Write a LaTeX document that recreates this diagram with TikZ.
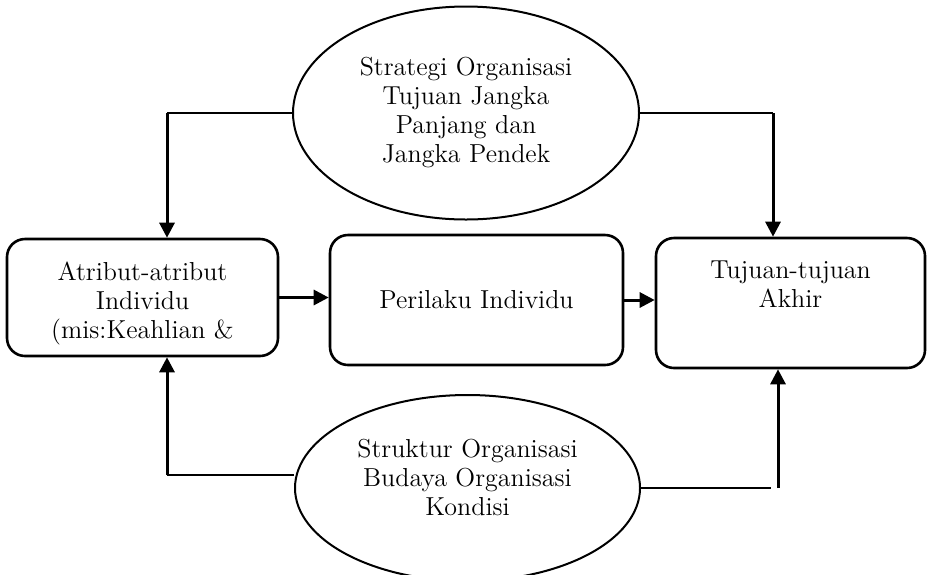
\documentclass[tikz,border=0pt]{standalone}
\usepackage{tikz}
\usetikzlibrary{arrows.meta,shapes.geometric,positioning}

\begin{document}
\begin{tikzpicture}[x=0.5pt,y=-0.5pt,
    box/.style={draw=black,line width=1.3pt,rounded corners=9pt},
    oval/.style={draw=black,ellipse,line width=1pt,inner sep=0pt},
    txt/.style={align=center,inner sep=0pt,font=\fontsize{13}{14.5}\selectfont},
    plain/.style={line width=1pt},
    conn/.style={line width=1.5pt,-{Triangle[length=7.5pt,width=7.5pt]}}]
    \useasboundingbox (0,0) rectangle (929,574);
    % ovals
    \node[oval,txt,minimum width=173pt,minimum height=106.5pt] (E1) at (466,113) {Strategi Organisasi\\Tujuan Jangka\\Panjang dan\\Jangka Pendek};
    \node[oval,minimum width=172.5pt,minimum height=93pt] (E2) at (467.5,488) {};
    \node[txt] (E2txt) at ([yshift=5.5pt]E2.center) {Struktur Organisasi\\Budaya Organisasi\\Kondisi};
    % boxes
    \node[box,minimum width=135.5pt,minimum height=58.5pt] (A) at (142.5,297.5) {};
    \node[txt,anchor=north] (Atxt) at ([yshift=-12pt]A.north) {Atribut-atribut\\Individu\\(mis:Keahlian \&};
    \node[box,txt,minimum width=146.5pt,minimum height=65pt] (B) at (476.5,300) {Perilaku Individu};
    \node[box,minimum width=134.5pt,minimum height=65pt] (C) at (790.5,303) {};
    \node[txt,anchor=north] (Ctxt) at ([yshift=-12pt]C.north) {Tujuan-tujuan\\Akhir};
    % bends
    \coordinate (tl) at (167,113);
    \coordinate (tr) at (773,113);
    \coordinate (bl) at (167,475);
    \coordinate (br) at (771,488);
    \coordinate (bu) at (778,488);
    \draw[plain] (E1.west) -- (tl);
    \draw[conn] (tl) -- (tl |- A.north);
    \draw[plain] (E1.east) -- (tr);
    \draw[conn] (tr) -- (tr |- C.north);
    \draw[plain] (E2.west |- bl) -- (bl);
    \draw[conn] (bl) -- (bl |- A.south);
    \draw[plain] (E2.east) -- (br);
    \draw[conn] (bu) -- (bu |- C.south);
    \draw[conn] (A.east) -- (A.east -| B.west);
    \draw[conn] (B.east) -- (B.east -| C.west);
\end{tikzpicture}
\end{document}
